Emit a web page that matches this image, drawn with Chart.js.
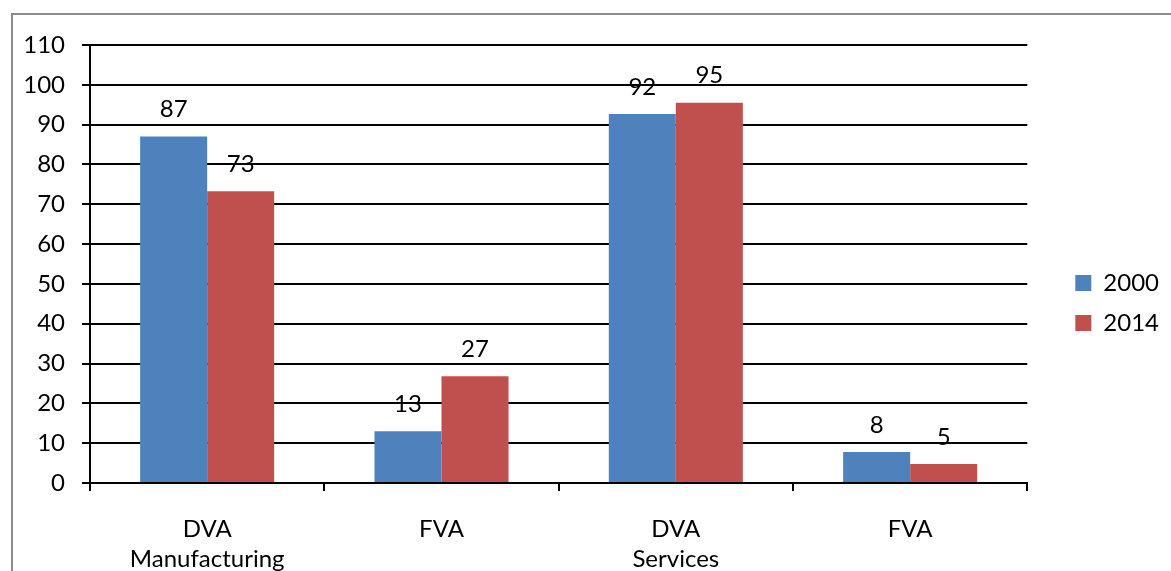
<!DOCTYPE html>
<html>
<head>
<meta charset="utf-8">
<script src="https://cdn.jsdelivr.net/npm/chart.js@4/dist/chart.umd.min.js"></script>
<style>
  html, body { margin: 0; padding: 0; background: #fff; overflow: hidden; }
  #frame { position: absolute; left: 11px; top: 13px; width: 1200px; height: 600px; border-left: 2px solid #8c8c8c; border-top: 2px solid #8c8c8c; }
  #wrap { position: absolute; left: 0; top: 0; width: 1171px; height: 571px; }
</style>
</head>
<body>
<div id="frame"></div>
<div id="wrap"><canvas id="c" width="1171" height="571"></canvas></div>
<script>
const categories = [["DVA", "Manufacturing"], "FVA", ["DVA", "Services"], "FVA"];
const seriesNames = ["2000", "2014"];
const values2000 = [87.0, 13.0, 92.7, 7.8];
const values2014 = [73.3, 26.8, 95.5, 4.8];
const labels2000 = ["87", "13", "92", "8"];
const labels2014 = ["73", "27", "95", "5"];
const yTicks = [0, 10, 20, 30, 40, 50, 60, 70, 80, 90, 100, 110];

const FONT = "Lato, 'Open Sans', sans-serif";
const FS = 24;

const dataLabelPlugin = {
  id: 'dataLabels',
  afterDatasetsDraw(chart) {
    const ctx = chart.ctx;
    ctx.save();
    ctx.font = FS + "px " + FONT;
    ctx.fillStyle = "#000";
    ctx.textAlign = "center";
    ctx.textBaseline = "middle";
    chart.data.datasets.forEach((ds, di) => {
      const meta = chart.getDatasetMeta(di);
      meta.data.forEach((bar, i) => {
        ctx.fillText(ds.labelsText[i], bar.x, bar.y - 27);
      });
    });
    ctx.restore();
  }
};

const legendShift = {
  id: 'legendShift',
  afterLayout(chart) {
    if (chart.legend) {
      chart.legend.left += 32;
      chart.legend.right += 32;
      chart.legend.top -= 5;
      chart.legend.bottom -= 5;
    }
  }
};

new Chart(document.getElementById('c'), {
  type: 'bar',
  data: {
    labels: categories,
    datasets: [
      { label: seriesNames[0], data: values2000, labelsText: labels2000, backgroundColor: '#4F81BD', borderWidth: 0 },
      { label: seriesNames[1], data: values2014, labelsText: labels2014, backgroundColor: '#C0504D', borderWidth: 0 }
    ]
  },
  options: {
    responsive: false,
    animation: false,
    devicePixelRatio: 1,
    layout: { padding: { left: 0, top: 45, right: 34, bottom: 0 } },
    datasets: { bar: { barPercentage: 1.0, categoryPercentage: 0.572 } },
    plugins: {
      legend: {
        position: 'right',
        labels: {
          boxWidth: 16, boxHeight: 16, padding: 16,
          color: '#000',
          font: { family: FONT, size: FS }
        }
      },
      tooltip: { enabled: false }
    },
    scales: {
      x: {
        grid: { drawOnChartArea: false, drawTicks: true, tickLength: 8, color: '#000', lineWidth: 2 },
        border: { color: '#000', width: 2 },
        ticks: { color: '#000', font: { family: FONT, size: FS, lineHeight: '30px' }, padding: 23, maxRotation: 0, autoSkip: false },
        afterFit(scale) { scale.height = 88; }
      },
      y: {
        min: 0, max: 110,
        afterBuildTicks(scale) { scale.ticks = yTicks.map(v => ({ value: v })); },
        grid: { color: '#000', lineWidth: 2, tickLength: 8, drawTicks: true },
        border: { color: '#000', width: 2 },
        ticks: { color: '#000', font: { family: FONT, size: FS }, padding: 17 },
        afterFit(scale) { scale.width = 90; }
      }
    }
  },
  plugins: [dataLabelPlugin, legendShift]
});
</script>
</body>
</html>
